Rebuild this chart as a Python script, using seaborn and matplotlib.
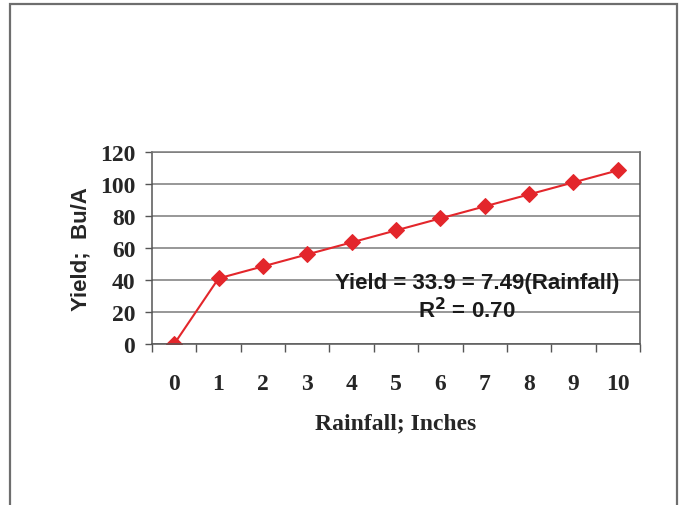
import numpy as np
import pandas as pd
import matplotlib
matplotlib.use("Agg")
import matplotlib.pyplot as plt
import seaborn as sns
from matplotlib.patches import Rectangle
from matplotlib.ticker import FixedLocator

# 数据
rainfall = [0, 1, 2, 3, 4, 5, 6, 7, 8, 9, 10]
yield_bu = [0, 41, 48.5, 56, 63.5, 71, 78.5, 86, 93.5, 101, 108.5]
y_ticks = [0, 20, 40, 60, 80, 100, 120]
eq_line1 = "Yield = 33.9 = 7.49(Rainfall)"
eq_line2 = "R$^{\\mathbf{2}}$ = 0.70"

df = pd.DataFrame({"rainfall": rainfall, "yield": yield_bu})

sns.set_style("white")
serif_bold = dict(family="Liberation Serif", weight="bold", size=17)
sans_bold = dict(family="Liberation Sans", weight="bold", size=16)

fig = plt.figure(figsize=(6.86, 5.06), dpi=100)
ax = fig.add_axes([152 / 686, 1 - 345 / 506, 488 / 686, 192 / 506])

# 外框
fig.patches.append(Rectangle((10 / 686, -0.05), 667 / 686, 1.05 - 5 / 506,
                             transform=fig.transFigure, fill=False,
                             edgecolor="#6e6e6e", linewidth=1.6))

sns.lineplot(data=df, x="rainfall", y="yield", ax=ax, color="#e3262b",
             linewidth=1.5, marker="D", markersize=8,
             markeredgecolor="#e3262b", markerfacecolor="#e3262b")

ax.set_xlim(-0.5, 10.5)
ax.set_ylim(0, 120)
ax.set_yticks(y_ticks)
ax.set_yticklabels([str(v) for v in y_ticks], fontdict=serif_bold)
ax.yaxis.grid(True, color="#7a7a7a", linewidth=1.1)
ax.set_axisbelow(True)

# 分类轴：刻度线在类别之间，标签在类别中间
ax.xaxis.set_major_locator(FixedLocator(np.arange(-0.5, 11, 1)))
ax.xaxis.set_major_formatter(plt.NullFormatter())
ax.xaxis.set_minor_locator(FixedLocator(rainfall))
ax.set_xticklabels([str(v) for v in rainfall], minor=True, fontdict=serif_bold)
ax.tick_params(axis="x", which="major", direction="out", length=6,
               width=1, color="#555555", bottom=True)
ax.tick_params(axis="x", which="minor", length=0, pad=21)
ax.tick_params(axis="y", direction="out", length=5, width=1,
               color="#555555", pad=7, left=True)

for side in ["left", "bottom", "right"]:
    ax.spines[side].set_visible(True)
    ax.spines[side].set_color("#555555")
    ax.spines[side].set_linewidth(1.1)
ax.spines["top"].set_color("#7a7a7a")
ax.spines["top"].set_linewidth(1.1)

ax.set_xlabel("Rainfall; Inches", fontdict=serif_bold, labelpad=13)
ax.set_ylabel("Yield;  Bu/A", fontdict=sans_bold, labelpad=6)

ax.text(0.666, 0.318, eq_line1, transform=ax.transAxes, ha="center",
        va="center", color="#1a1a1a", **sans_bold)
ax.text(0.645, 0.18, eq_line2, transform=ax.transAxes, ha="center",
        va="center", color="#1a1a1a", **sans_bold)

fig.savefig("out.png", dpi=100)
